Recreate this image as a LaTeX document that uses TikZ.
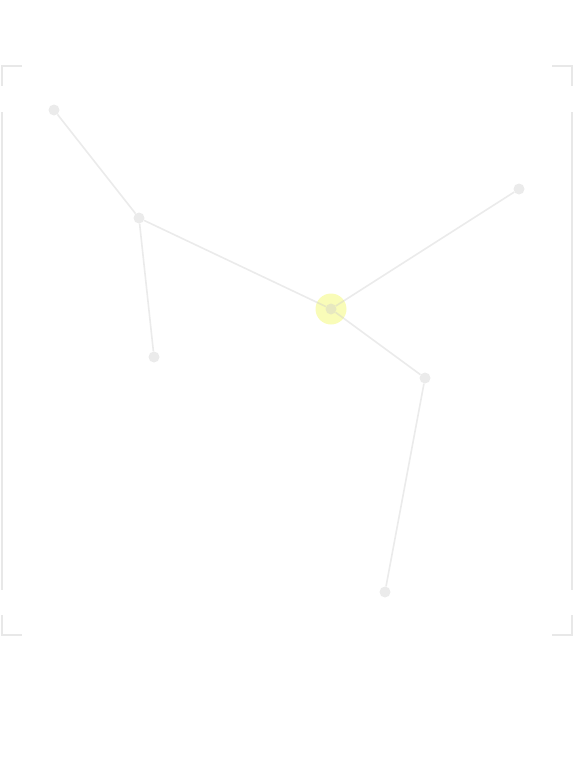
\documentclass[tikz,border=0pt]{standalone}
\usepackage{tikz}
\definecolor{framegray}{HTML}{E8E8E8}
\definecolor{halo}{HTML}{F9FCB8}
\tikzset{
vertex/.style={circle,fill=black!20,fill opacity=0.4,inner sep=0pt,minimum size=11pt},
link/.style={black!20,draw opacity=0.4,line width=1.6pt},
frame/.style={framegray,line width=1.6pt}
}
\begin{document}
\begin{tikzpicture}[x=1pt,y=-1pt]
\useasboundingbox (0,0) rectangle (576,780);
% corner marks and side rails
\draw[frame] (22,66) -- (2,66) -- (2,86);
\draw[frame] (552,66) -- (572,66) -- (572,86);
\draw[frame] (22,635) -- (2,635) -- (2,615);
\draw[frame] (552,635) -- (572,635) -- (572,615);
\draw[frame] (2,112) -- (2,590);
\draw[frame] (572,112) -- (572,590);
% highlighted centre
\fill[halo] (331,309) circle (15.5);
\node[vertex] (c) at (331,309) {};
\node[vertex] (a) at (54,110) {};
\node[vertex] (b) at (139,218) {};
\node[vertex] (d) at (154,357) {};
\node[vertex] (e) at (519,189) {};
\node[vertex] (f) at (425,378) {};
\node[vertex] (g) at (385,592) {};
\foreach \u/\v in {a/b,b/d,b/c,c/e,c/f,f/g}
\draw[link] (\u) -- (\v);
\end{tikzpicture}
\end{document}
